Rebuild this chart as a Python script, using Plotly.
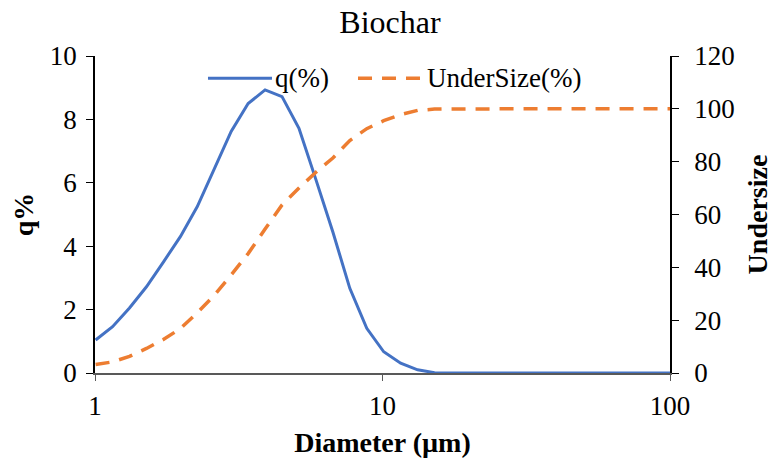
import plotly.graph_objects as go

# Particle size distribution of biochar (laser diffraction bins)
diameter_um = [1.005, 1.151, 1.318, 1.510, 1.729, 1.981, 2.269, 2.599, 2.976, 3.409,
               3.905, 4.472, 5.122, 5.867, 6.720, 7.697, 8.816, 10.097, 11.565, 13.246,
               15.172, 17.377, 19.904, 22.797, 26.111, 29.907, 34.255, 39.234, 44.938,
               51.471, 58.953, 67.523, 77.340, 88.583, 101.46]

q_percent = [1.04, 1.46, 2.05, 2.72, 3.50, 4.30, 5.25, 6.45, 7.62, 8.50,
             8.93, 8.72, 7.72, 6.10, 4.45, 2.67, 1.41, 0.67, 0.31, 0.10,
             0.01, 0, 0, 0, 0, 0, 0, 0, 0,
             0, 0, 0, 0, 0, 0]

undersize_percent = [3.2, 4.2, 6.3, 9.3, 12.7, 16.8, 22.8, 29.4, 37.1, 45.2,
                     54.5, 63.6, 70.0, 76.0, 81.4, 88.0, 92.5, 95.5, 97.8, 99.4,
                     99.9, 100, 100, 100, 100, 100, 100, 100, 100,
                     100, 100, 100, 100, 100, 100]

x_ticks = [1, 10, 100]
series_names = ["q(%)", "UnderSize(%)"]

BLUE = "#4472C4"
ORANGE = "#ED7D31"
FONT = "Liberation Serif"

fig = go.Figure()
fig.add_trace(go.Scatter(x=diameter_um, y=q_percent, mode="lines", name=series_names[0],
                         line=dict(color=BLUE, width=3), yaxis="y"))
fig.add_trace(go.Scatter(x=diameter_um, y=undersize_percent, mode="lines", name=series_names[1],
                         line=dict(color=ORANGE, width=3.5, dash="14px,10px"), yaxis="y2"))

# Hand-drawn legend row across the top of the plot area
legend_y = 0.93
fig.add_shape(type="line", xref="paper", yref="paper", x0=0.1965, x1=0.3078,
              y0=legend_y, y1=legend_y, line=dict(color=BLUE, width=3))
fig.add_shape(type="line", xref="paper", yref="paper", x0=0.4574, x1=0.5652,
              y0=legend_y, y1=legend_y, line=dict(color=ORANGE, width=3.5, dash="14px,10px"))
fig.add_annotation(xref="paper", yref="paper", x=0.3096, y=legend_y, text=series_names[0],
                   showarrow=False, xanchor="left", yanchor="middle",
                   font=dict(family=FONT, size=27, color="#000"))
fig.add_annotation(xref="paper", yref="paper", x=0.574, y=legend_y, text=series_names[1],
                   showarrow=False, xanchor="left", yanchor="middle",
                   font=dict(family=FONT, size=27, color="#000"))

fig.update_layout(
    width=773, height=459,
    margin=dict(l=95, r=103, t=56, b=86, autoexpand=False),
    paper_bgcolor="white", plot_bgcolor="white",
    showlegend=False,
    font=dict(family=FONT, color="#000"),
    title=dict(text="Biochar", x=0.5045, xref="container", xanchor="center",
               y=0.952, yref="container", yanchor="middle",
               font=dict(family=FONT, size=32, color="#000")),
    xaxis=dict(type="log", range=[0, 2], tickvals=x_ticks, ticktext=[str(v) for v in x_ticks],
               showgrid=False, zeroline=False, showline=True, linecolor="#595959", linewidth=1.5,
               ticks="outside", ticklen=6, tickcolor="#595959", ticklabelstandoff=2,
               tickfont=dict(family=FONT, size=27),
               title=dict(text="<b>Diameter (µm)</b>", font=dict(family=FONT, size=28), standoff=12)),
    yaxis=dict(range=[0, 10], dtick=2, showgrid=False, zeroline=False, showline=True,
               linecolor="#000", linewidth=1.5, ticks="outside", ticklen=7, tickcolor="#000",
               ticklabelstandoff=4,
               tickfont=dict(family=FONT, size=27),
               title=dict(text="<b>q%</b>", font=dict(family=FONT, size=28), standoff=8)),
    yaxis2=dict(range=[0, 120], dtick=20, overlaying="y", side="right", showgrid=False,
                zeroline=False, showline=True, linecolor="#000", linewidth=1.5,
                ticks="outside", ticklen=7, tickcolor="#000", ticklabelstandoff=10,
                tickfont=dict(family=FONT, size=27),
                title=dict(text="<b>Undersize</b>", font=dict(family=FONT, size=28), standoff=16)),
)

fig.write_html("out.html")
